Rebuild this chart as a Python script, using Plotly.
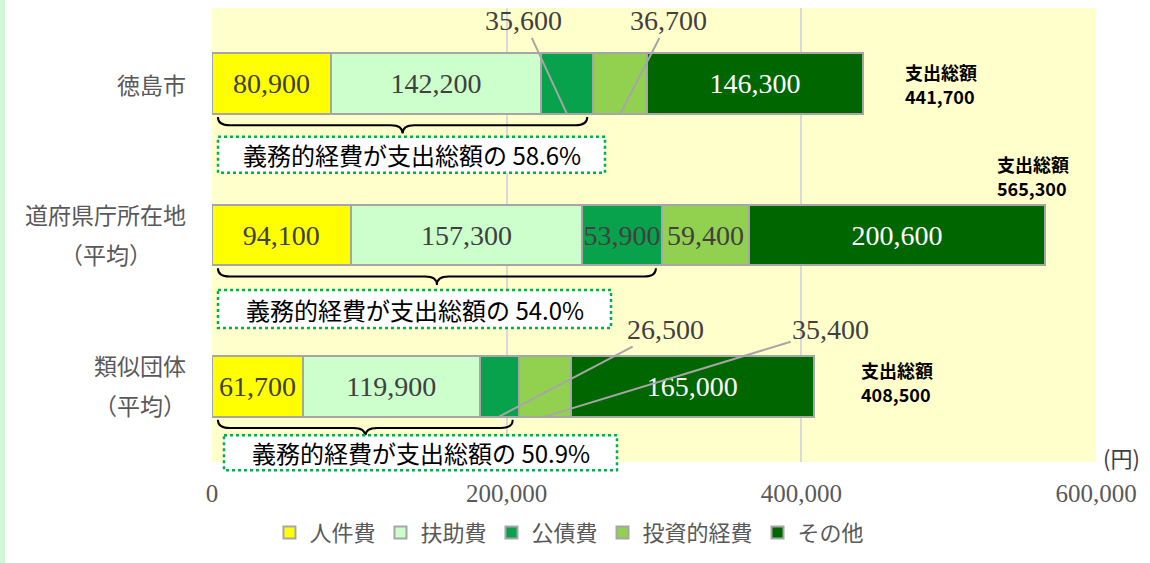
import plotly.graph_objects as go

# 歳出の内訳（住民一人当たり、円）
categories = ["徳島市", "道府県庁所在地\n（平均）", "類似団体\n（平均）"]
series_names = ["人件費", "扶助費", "公債費", "投資的経費", "その他"]
personnel = [80900, 94100, 61700]
assistance = [142200, 157300, 119900]
debt = [35600, 53900, 26500]
investment = [36700, 59400, 35400]
other = [146300, 200600, 165000]
x_ticks = [0, 200000, 400000, 600000]

series = [personnel, assistance, debt, investment, other]
colors = ["#FFFF00", "#CCFFCC", "#07A24B", "#92D050", "#006600"]
text_colors = ["#404040", "#404040", "#404040", "#404040", "white"]

W, H = 1150, 563
ML, MR, MT, MB = 212, 54, 8, 101
PW, PH = W - ML - MR, H - MT - MB

JP = "Noto Sans CJK JP"
SERIF = "Liberation Serif"

rows = list(range(len(categories)))
n = len(rows)
totals = [sum(s[i] for s in series) for i in rows]
mandatory = [personnel[i] + assistance[i] + debt[i] for i in rows]

# values drawn outside with a leader line: (row, series) -> label offset in px
outside = {(0, 2): (-43, -93), (0, 3): (48, -93), (2, 2): (166, -87), (2, 3): (286, -87)}


def paper_y(i):
    # centre of row i in paper coords (y range is [n-0.5, -0.5])
    return 1 - (i + 0.5) / n


fig = go.Figure()
for k, (name, vals) in enumerate(zip(series_names, series)):
    txt = ["" if (i, k) in outside else f"{v:,}" for i, v in enumerate(vals)]
    fig.add_trace(go.Bar(
        y=rows, x=vals, name=name, orientation="h", width=0.4,
        marker=dict(color=colors[k], line=dict(color="#A6A6A6", width=2)),
        text=txt, textposition="inside", insidetextanchor="middle",
        constraintext="none", textangle=0,
        textfont=dict(family=SERIF, size=28, color=text_colors[k]),
        hoverinfo="skip",
    ))

# category labels (centred lines, right aligned block)
for i, lab in enumerate(categories):
    lines = lab.split("\n")
    width = max(len(l) for l in lines) * 23
    shifts = [0] if len(lines) == 1 else [21, -19]
    for line, ys in zip(lines, shifts):
        fig.add_annotation(x=0, xref="paper", xanchor="center", xshift=-26 - width / 2,
                           y=paper_y(i), yref="paper", yanchor="middle", yshift=ys,
                           text=line, showarrow=False,
                           font=dict(family=JP, size=23, color="#595959"))

# leader-line labels
for (i, k), (ax, ay) in outside.items():
    start = sum(series[j][i] for j in range(k))
    fig.add_annotation(x=start + series[k][i] / 2, y=i + 0.2, ax=ax, ay=ay,
                       text=f"{series[k][i]:,}", showarrow=True, arrowhead=0,
                       arrowwidth=2, arrowcolor="#A6A6A6", standoff=0,
                       font=dict(family=SERIF, size=28, color="#404040"))

# totals (two tight lines)
total_pos = [(40, 0), (-50, 59), (45, 4)]
for i, t in enumerate(totals):
    xs, ys = total_pos[i]
    for line, dy in (("支出総額", 12), (f"{t:,}", -12)):
        fig.add_annotation(x=t, y=i, xanchor="left", yanchor="middle", xshift=xs, yshift=ys + dy,
                           text=f"<b>{line}</b>", showarrow=False,
                           font=dict(family=JP, size=18, color="black"))

# braces + dotted boxes
box_pos = [(6, 393, 53, 89), (6, 399, 55, 93), (12, 405, 49, 84)]
for i in rows:
    m = mandatory[i]
    x0, x1, xm, dx = 4000, m - 4000, m / 2, 8000
    y0, y1, y2 = i + 0.22, i + 0.275, i + 0.33
    path = (f"M{x0},{y0} Q{x0},{y1} {x0 + dx},{y1} L{xm - dx},{y1} Q{xm},{y1} {xm},{y2} "
            f"Q{xm},{y1} {xm + dx},{y1} L{x1 - dx},{y1} Q{x1},{y1} {x1},{y0}")
    fig.add_shape(type="path", path=path, xref="x", yref="y",
                  line=dict(color="black", width=2))

    bx0, bx1, by0, by1 = box_pos[i]
    fig.add_shape(type="rect", xref="paper", yref="paper",
                  xsizemode="pixel", ysizemode="pixel", xanchor=0, yanchor=paper_y(i),
                  x0=bx0, x1=bx1, y0=-by0, y1=-by1,
                  fillcolor="white", line=dict(color="#00B050", width=2.5, dash="dot"))
    fig.add_annotation(x=0, xref="paper", xanchor="center", xshift=(bx0 + bx1) / 2,
                       y=paper_y(i), yref="paper", yanchor="middle", yshift=-(by0 + by1) / 2,
                       text=f"義務的経費が支出総額の {m / totals[i] * 100:.1f}%",
                       showarrow=False, font=dict(family=JP, size=24, color="black"))

fig.add_annotation(x=1, xref="paper", xanchor="left", xshift=5, y=0, yref="paper",
                   yanchor="middle", yshift=5, text="(円)", showarrow=False,
                   font=dict(family=JP, size=22, color="#404040"))

# light green strip at the left edge of the page
fig.add_shape(type="rect", xref="paper", yref="paper", layer="below",
              x0=-ML / PW, x1=(5 - ML) / PW, y0=-MB / PH, y1=1 + MT / PH,
              fillcolor="#D5F5D9", line=dict(width=0))

fig.update_layout(
    width=W, height=H, margin=dict(l=ML, r=MR, t=MT, b=MB),
    barmode="stack", bargap=0.6,
    paper_bgcolor="white", plot_bgcolor="#FFFFCC",
    showlegend=True, hovermode=False,
    legend=dict(orientation="h", traceorder="normal", x=0.065, xanchor="left",
                y=-0.156, yanchor="middle",
                font=dict(family=JP, size=22, color="#595959"), itemwidth=30,
                bgcolor="rgba(0,0,0,0)"),
    xaxis=dict(range=[0, 600000], tickvals=x_ticks, ticktext=[f"{v:,}" for v in x_ticks],
               showgrid=True, gridcolor="#D9D9D9", gridwidth=2, zeroline=False,
               ticks="", ticklabelstandoff=14,
               tickfont=dict(family=SERIF, size=25, color="#595959")),
    yaxis=dict(range=[n - 0.5, -0.5], showticklabels=False, showgrid=False, zeroline=False),
)

# page body margin off so the figure sits at the top-left corner
fig.write_html("out.html", config={"displayModeBar": False},
               post_script="document.body.style.margin='0';")
